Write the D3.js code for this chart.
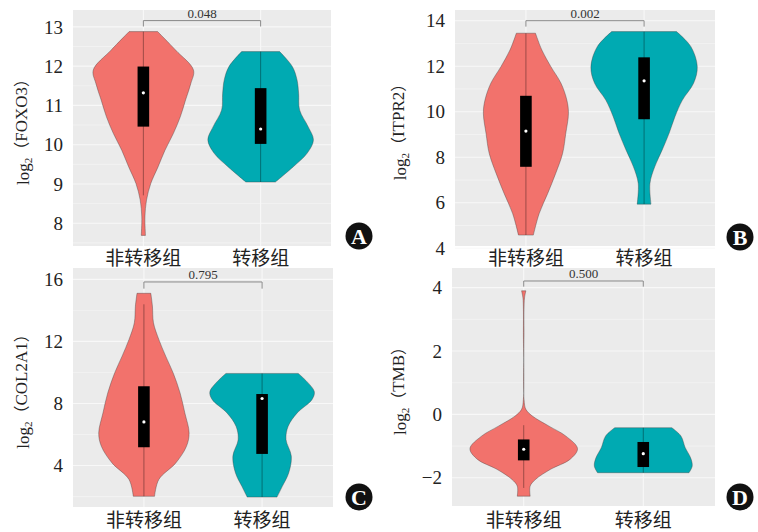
<!DOCTYPE html>
<html>
<head>
<meta charset="utf-8">
<script src="https://cdn.jsdelivr.net/npm/d3@7"></script>
<style>
  body { margin: 0; background: #fff; }
  svg { display: block; }
</style>
</head>
<body>
<svg id="chart" width="758" height="532"></svg>
<script>
// groups on the x axis
const groups = ["非转移组", "转移组"];

// violin outlines: [log2 value, relative half width]
const foxo3NonMet = [[12.88,0.27],[12.41,0.61],[11.9,0.95],[11.56,0.9],[11.14,0.8],[10.71,0.7],[10.29,0.57],[9.86,0.41],[9.44,0.28],[9.01,0.14],[8.59,0.06],[8.16,0.03],[7.69,0.04]];
const foxo3Met = [[12.37,0.36],[11.99,0.6],[11.65,0.69],[11.31,0.72],[10.88,0.74],[10.46,0.9],[10.12,1.0],[9.78,0.88],[9.44,0.62],[9.05,0.28]];
const itpr2NonMet = [[13.45,0.18],[12.71,0.3],[11.98,0.47],[11.25,0.66],[10.51,0.77],[9.93,0.8],[9.05,0.75],[8.17,0.69],[7.29,0.56],[6.41,0.41],[5.53,0.25],[4.58,0.14]];
const itpr2Met = [[13.52,0.61],[12.86,0.88],[11.98,1.0],[11.25,0.93],[10.51,0.72],[9.78,0.58],[9.05,0.47],[8.32,0.34],[7.58,0.2],[6.85,0.11],[5.94,0.13]];
const col2a1NonMet = [[15.1,0.13],[14.28,0.16],[13.2,0.18],[12.13,0.28],[11.05,0.41],[9.97,0.55],[8.68,0.68],[7.39,0.77],[6.1,0.85],[5.24,0.8],[4.17,0.6],[3.1,0.28],[2.02,0.2]];
const col2a1Met = [[9.94,0.68],[8.79,0.98],[8.26,0.94],[7.39,0.66],[6.53,0.49],[5.68,0.45],[4.6,0.55],[3.52,0.5],[2.66,0.38],[1.97,0.28]];
const tmbNonMet = [[3.9,0.04],[3.68,0.015],[3.32,0.006],[2.58,0.006],[0.48,0.006],[0.16,0.04],[-0.05,0.16],[-0.37,0.47],[-0.68,0.78],[-1.08,1.0],[-1.42,0.86],[-1.73,0.5],[-2.05,0.22],[-2.26,0.12],[-2.58,0.12]];
const tmbMet = [[-0.42,0.53],[-0.68,0.7],[-1.05,0.78],[-1.37,0.88],[-1.63,0.91],[-1.84,0.85]];

// box stats per group: [whisker low, q1, median, q3, whisker high]
const foxo3Stats = [[8.71, 10.46, 11.32, 11.99, 12.88], [9.05, 10.02, 10.4, 11.44, 12.37]];
const itpr2Stats = [[4.58, 7.58, 9.15, 10.7, 13.45], [5.94, 9.67, 11.36, 12.39, 13.52]];
const col2a1Stats = [[2.02, 5.18, 6.81, 9.11, 14.39], [1.97, 4.75, 8.32, 8.61, 9.94]];
const tmbStats = [[-2.32, -1.45, -1.1, -0.79, -0.34], [-1.84, -1.66, -1.24, -0.87, -0.42]];

// p values and where the bracket sits
const pValues = ["0.048", "0.002", "0.795", "0.500"];
const bracketY = [[13.16, 13.01], [14.0, 13.74], [15.83, 15.4], [4.21, 4.03]];

// y ticks
const foxo3Ticks = [8, 9, 10, 11, 12, 13];
const itpr2Ticks = [4, 6, 8, 10, 12, 14];
const col2a1Ticks = [4, 8, 12, 16];
const tmbTicks = [-2, 0, 2, 4];

const genes = ["FOXO3", "ITPR2", "COL2A1", "TMB"];
const letters = ["A", "B", "C", "D"];

const fills = ["#F2726C", "#00AAB2"];

const panels = [
  { x0: 73, x1: 331, y0: 10, y1: 246, domain: [7.42, 13.43], ticks: foxo3Ticks, violins: [foxo3NonMet, foxo3Met], stats: foxo3Stats, titleX: 23, badge: [359, 236], labelY: 258 },
  { x0: 455, x1: 715, y0: 10, y1: 246, domain: [4.1, 14.47], ticks: itpr2Ticks, violins: [itpr2NonMet, itpr2Met], stats: itpr2Stats, titleX: 400, badge: [740, 237], labelY: 258 },
  { x0: 73, x1: 333, y0: 268, y1: 507, domain: [1.33, 16.73], ticks: col2a1Ticks, violins: [col2a1NonMet, col2a1Met], stats: col2a1Stats, titleX: 23, badge: [359, 497], labelY: 520 },
  { x0: 452, x1: 715, y0: 268, y1: 506, domain: [-2.89, 4.62], ticks: tmbTicks, violins: [tmbNonMet, tmbMet], stats: tmbStats, titleX: 400, badge: [740, 497], labelY: 520 }
];

const svg = d3.select("#chart");
const serif = "'Liberation Serif', 'DejaVu Serif', serif";
const cjk = "'Noto Sans CJK SC', sans-serif";

panels.forEach((p, pi) => {
  const g = svg.append("g");

  const x = d3.scalePoint().domain(groups).range([p.x0, p.x1]).padding(0.6);
  const y = d3.scaleLinear().domain(p.domain).range([p.y1, p.y0]);
  const halfW = d3.scaleLinear().domain([0, 1]).range([0, x.step() * 0.45]);

  // panel background
  g.append("rect")
    .attr("x", p.x0).attr("y", p.y0)
    .attr("width", p.x1 - p.x0).attr("height", p.y1 - p.y0)
    .attr("fill", "#EBEBEB");

  // grid: minor between major ticks
  const step = p.ticks[1] - p.ticks[0];
  const minorTicks = [];
  for (let t = p.ticks[0] - step / 2; t <= p.domain[1]; t += step) {
    if (t >= p.domain[0]) minorTicks.push(t);
  }
  g.selectAll(".minor").data(minorTicks).join("line")
    .attr("x1", p.x0).attr("x2", p.x1)
    .attr("y1", d => y(d)).attr("y2", d => y(d))
    .attr("stroke", "#F6F6F6").attr("stroke-width", 0.6);
  g.selectAll(".major").data(p.ticks).join("line")
    .attr("x1", p.x0).attr("x2", p.x1)
    .attr("y1", d => y(d)).attr("y2", d => y(d))
    .attr("stroke", "#F8F8F8").attr("stroke-width", 1.1);
  g.selectAll(".vgrid").data(groups).join("line")
    .attr("x1", d => x(d)).attr("x2", d => x(d))
    .attr("y1", p.y0).attr("y2", p.y1)
    .attr("stroke", "#F8F8F8").attr("stroke-width", 1.1);

  // y tick labels
  g.selectAll(".tick").data(p.ticks).join("text")
    .attr("x", p.x0 - 10)
    .attr("y", d => y(d))
    .attr("dy", "0.35em")
    .attr("text-anchor", "end")
    .attr("font-family", serif)
    .attr("font-size", 19)
    .attr("fill", "#222")
    .text(d => d < 0 ? "\u2212" + Math.abs(d) : d);

  // y title
  const cy = (p.y0 + p.y1) / 2;
  const title = g.append("text")
    .attr("transform", `translate(${p.titleX},${cy}) rotate(-90)`)
    .attr("text-anchor", "middle")
    .attr("dy", "0.35em")
    .attr("font-family", serif)
    .attr("font-size", 17)
    .attr("fill", "#222");
  title.append("tspan").text("log");
  title.append("tspan").attr("font-size", 11).attr("dy", "0.3em").text("2");
  title.append("tspan").attr("dy", "-0.3em").attr("font-family", cjk).attr("font-size", 16).text("（");
  title.append("tspan").text(genes[pi]);
  title.append("tspan").attr("font-family", cjk).attr("font-size", 16).text("）");

  // violins
  const area = d3.area()
    .y(d => y(d[0]))
    .curve(d3.curveCatmullRom.alpha(0.5));

  groups.forEach((grp, gi) => {
    const cx = x(grp);
    const prof = p.violins[gi];
    g.append("path")
      .datum(prof)
      .attr("d", area.x0(d => cx - halfW(d[1])).x1(d => cx + halfW(d[1])))
      .attr("fill", fills[gi])
      .attr("stroke", "rgba(60,60,60,0.55)")
      .attr("stroke-width", 0.7);

    const s = p.stats[gi];
    g.append("line")
      .attr("x1", cx).attr("x2", cx)
      .attr("y1", y(s[0])).attr("y2", y(s[4]))
      .attr("stroke", "rgba(0,0,0,0.35)")
      .attr("stroke-width", 1);
    g.append("rect")
      .attr("x", cx - 5.8).attr("width", 11.6)
      .attr("y", y(s[3])).attr("height", y(s[1]) - y(s[3]))
      .attr("fill", "#000");
    g.append("circle")
      .attr("cx", cx).attr("cy", y(s[2])).attr("r", 1.6)
      .attr("fill", "#fff");
  });

  // x labels
  g.selectAll(".xlab").data(groups).join("text")
    .attr("x", d => x(d))
    .attr("y", p.labelY)
    .attr("dy", "0.35em")
    .attr("text-anchor", "middle")
    .attr("font-family", cjk)
    .attr("font-size", 19)
    .attr("fill", "#222")
    .text(d => d);

  // significance bracket
  const bx1 = x(groups[0]), bx2 = x(groups[1]);
  const by = y(bracketY[pi][0]), byEnd = y(bracketY[pi][1]);
  g.append("path")
    .attr("d", `M${bx1},${byEnd}V${by}H${bx2}V${byEnd}`)
    .attr("fill", "none")
    .attr("stroke", "#888")
    .attr("stroke-width", 1);
  g.append("text")
    .attr("x", (bx1 + bx2) / 2)
    .attr("y", by - 3)
    .attr("text-anchor", "middle")
    .attr("font-family", serif)
    .attr("font-size", 13)
    .attr("fill", "#333")
    .text(pValues[pi]);

  // panel letter badge
  g.append("circle")
    .attr("cx", p.badge[0]).attr("cy", p.badge[1]).attr("r", 13.5)
    .attr("fill", "#111");
  g.append("text")
    .attr("x", p.badge[0]).attr("y", p.badge[1])
    .attr("dy", "0.36em")
    .attr("text-anchor", "middle")
    .attr("font-family", serif)
    .attr("font-weight", "bold")
    .attr("font-size", 22)
    .attr("fill", "#fff")
    .text(letters[pi]);
});
</script>
</body>
</html>
